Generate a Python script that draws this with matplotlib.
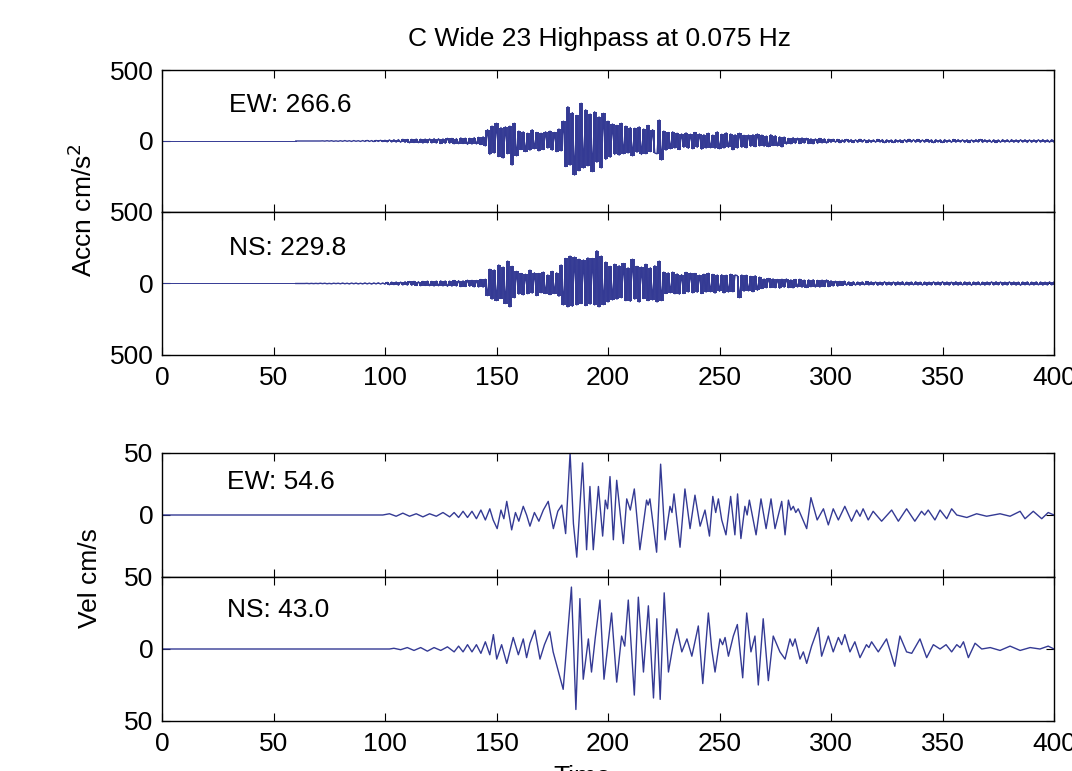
#!/usr/bin/env python

import matplotlib
matplotlib.use("Agg")
import matplotlib.pyplot as plt

plt.rcParams['font.family'] = ['Liberation Sans', 'DejaVu Sans']
plt.rcParams['font.size'] = 19

title = "C Wide 23 Highpass at 0.075 Hz"

# acceleration traces, one sample per second starting at acc_t0 (cm/s^2)
acc_t0 = 60
acc_ew = [
    0, 0, 0, 0, 0, 0, 0, 0, 0, 0,
    0, 0, 1, -1, 2, -1, 2, -2, 1, -2,
    2, -2, 3, -2, 2, -3, 3, -2, 2, -3,
    3, -3, 4, -3, 3, -4, 4, -3, 5, -4,
    5, -6, 8, -7, 9, -8, 10, -9, 12, -10,
    11, -13, 12, -11, 14, -12, 13, -15, 14, -13,
    15, -14, 17, -15, 16, -18, 15, -17, 19, -16,
    18, -20, 17, -19, 22, -18, 20, -24, 19, -22,
    24, -21, 26, -25, 30, -35, 80, -95, 105, -85,
    125, -110, 95, -120, 100, -90, 105, -170, 125, -105,
    70, -60, 65, -75, 55, -65, 80, -55, 60, -70,
    55, -60, 65, -50, 70, -65, 60, -75, 85, -70,
    140, -180, 242, -170, 200, -240, 180, -210, 266, -190,
    220, -175, 190, -216, 206, -150, 170, -190, 195, -130,
    140, -115, 120, -95, 110, -100, 125, -90, 105, -85,
    95, -105, 90, -80, 100, -95, 85, -90, 110, -75,
    80, -85, -90, 148, -134, 70, -65, 60, -55, 65,
    -50, 55, -60, 50, -45, 58, -52, 48, -55, 60,
    -45, 50, -58, 45, -50, 55, -48, 42, -52, 65,
    -55, 48, -50, 58, -45, 50, -62, 45, -50, 55,
    -45, 40, -48, 42, -38, 45, -40, 50, -35, 42,
    -38, 35, -40, 45, -32, 38, -35, 30, -42, 28,
    -22, 18, -20, 24, -17, 20, -18, 22, -15, 19,
    -18, 16, -20, 15, -17, 18, -14, 16, -15, 13,
    -10, 12, -9, 11, -12, 8, -10, 11, -9, 10,
    -11, 9, -10, 12, -8, 10, -11, 9, -10, 8,
    -9, 11, -8, 10, -12, 9, -10, 8, -11, 10,
    -8, 9, -11, 10, -9, 12, -8, 10, -9, 11,
    -10, 8, -9, 11, -10, 9, -12, 10, -8, 9,
    -11, 10, -9, 8, -10, 11, -9, 10, -8, 9,
    -10, 9, -11, 8, -9, 10, -8, 11, -10, 9,
    -9, 8, -10, 9, -11, 8, -9, 10, -8, 9,
    -8, 10, -9, 8, -10, 9, -8, 9, -10, 8,
    -9, 8, -10, 9, -8, 10, -9, 8, -9, 10,
    -8,
]
acc_ns = [
    0, 0, 0, 0, 0, 1, -1, 1, -1, 1,
    -1, 2, -1, 2, -2, 1, -2, 2, -1, 2,
    -2, 3, -2, 2, -3, 3, -2, 3, -3, 2,
    -3, 4, -3, 3, -4, 4, -3, 5, -4, 4,
    -5, 8, -9, 10, -8, 11, -12, 10, -11, 13,
    -12, 14, -13, 15, -14, 13, -16, 15, -14, 17,
    -16, 15, -18, 17, -16, 19, -17, 18, -20, 17,
    -19, 21, -18, 20, -22, 19, -21, 23, -20, 22,
    -24, 21, -25, 28, -26, 30, -85, 100, -110, 95,
    -120, 130, -105, 115, -140, 157, -164, 120, -100, 85,
    -75, 70, -80, 65, -72, 94, -68, 75, -85, 70,
    -65, 80, -70, 60, -78, 85, -70, 75, -90, 130,
    -150, 175, -164, 192, -160, 185, -150, 170, -140, 165,
    -155, 180, -145, 175, -150, 230, -164, 192, -148, 150,
    -130, 120, -115, 135, -110, 125, -100, 140, -120, 110,
    -125, 170, -110, 120, -130, 115, -105, 135, -120, 110,
    -115, 125, -130, 157, -120, 80, -70, 75, -65, 80,
    -72, 68, -75, 62, -70, 78, -60, 72, -66, 70,
    -62, 58, -70, 65, -60, 72, -58, 64, -68, 60,
    -55, 62, -66, 58, -60, 65, -58, 60, 55, -100,
    60, -55, 58, -52, 50, -58, 55, -48, 45, -35,
    32, -30, 35, -28, 33, -30, 28, -34, 30, -27,
    32, -29, 26, -31, 28, -25, 30, -27, 24, -28,
    26, -23, 27, -25, 22, -26, 24, -21, 25, -22,
    20, -18, 16, -19, 15, -14, 17, -13, 12, -14,
    13, -12, 11, -13, 12, -10, 14, -11, 12, -10,
    11, -13, 10, -12, 13, -11, 10, -12, 11, -13,
    12, -10, 13, -11, 10, -12, 11, -10, 13, -11,
    10, -12, 11, -13, 10, -11, 12, -10, 11, -12,
    13, -10, 11, -12, 10, -11, 13, -12, 10, -11,
    12, -11, 10, -13, 11, -10, 12, -11, 10, -12,
    11, -10, 12, -11, 13, -10, 11, -12, 10, -11,
    12, -10, 11, -12, 10, -13, 11, -10, 12, -11,
    10, -11, 12, -10, 11, -12, 10, -11, 12, -10,
    11,
]
acc_peaks = ["EW: 266.6", "NS: 229.8"]

# velocity traces, picked turning points (time s, cm/s)
vel_ew_t = [0, 84, 99, 102, 105, 108, 111, 114, 117, 120, 123, 126, 129,
            131, 133, 135, 137, 139, 141, 143, 145, 147, 148.5, 150.3, 152,
            153.3, 154.6, 156.8, 158.5, 160, 162, 163.5, 165, 167, 169, 171,
            173.2, 175.5, 177.5, 179.3, 181, 183, 184.5, 186, 188.6, 190.4,
            191.9, 193.4, 195.7, 197.6, 198.8, 199.8, 200.9, 202.4, 203.9,
            206.9, 208.4, 210, 211.8, 214.3, 217.3, 218, 218.8, 221.8, 223.6,
            225.6, 227.8, 228.7, 229.6, 232.3, 234.5, 236.8, 239.0, 241.3,
            243.5, 245.5, 247.0, 248.3, 249.5, 251.0, 252.9, 255.0, 256.9,
            258.1, 259.6, 261.4, 262.4, 263.4, 266.4, 268.6, 270.9, 273.1,
            274.9, 277.9, 279.4, 280.9, 282, 283.1, 284.2, 285.3, 289.1,
            291.0, 293.8, 296.6, 298.8, 301.0, 303.3, 306.2, 309.2, 311.5,
            313, 314.4, 316.7, 318.9, 322.7, 327.2, 330.2, 333.9, 337.6,
            340.6, 342, 343.6, 346.6, 348.9, 351.9, 354.1, 356.4, 360.9,
            365.3, 369.8, 375.8, 380.3, 384.8, 387.0, 390.7, 394.5, 397.4, 400]
vel_ew = [0, 0, 0, 1, -1, 1.5, -1, 1, -1.5, 1, -1, 2, -1.5,
          2, -2, 3, -2, 3, -3, 4, -4, 5, -4, -11, 4,
          -3, 11, -12, 2, -5, 7, 0, -9, 2, -5, 4,
          11, -11, 3, 8, -15, 50, -7, -34, 42, -28,
          23, -28, 23, -17, 12, 5, 31, -20, 28,
          -23, 13, 4, 21, -28, 12, 8, 13, -30, 41,
          -20, 7, 2, 17, -26, 21, -11, 16, -9,
          4, -17, 15, 2, 13, -4, -16, 15, -16,
          17, -19, 7, 0, 12, -16, 13, -11, 13,
          -11, 11, -16, 12, 4, 7, 2, 5, -11,
          14, -4, 5, -8, 5, -4, 7, -5, 4,
          -1, 5, -4, 3, -5, 4, -5, 5, -5,
          3, 0, 4, -4, 4, -3, 5, 0, -2,
          1, -1, 1, -1, 3, -3, 3, -3, 2, 0]

vel_ns_t = [0, 86, 102, 104, 107, 110, 113, 116, 119, 122, 125, 128, 131,
            133, 135, 137, 139, 141, 143, 145, 147, 148.6, 150.1, 152.3,
            154.6, 157.5, 159.8, 162.0, 163.5, 165.0, 167.2, 169.5, 171.5,
            173.9, 175.4, 179.9, 183.6, 185.6, 187.4, 188.9, 191.2, 192.6,
            194.3, 196.4, 198.2, 201.6, 203.9, 206.1, 207.5, 209.1, 211.8,
            213.6, 215.9, 218.1, 220.4, 221.9, 223.4, 225.2, 227.1, 229.1,
            230.9, 233.1, 235.4, 237.6, 240.5, 242.5, 245, 246.5, 248, 250.2,
            251.4, 252.5, 254.0, 256.2, 258.0, 260.4, 262.2, 264.1, 265.9,
            267.4, 269.6, 271.9, 274.1, 277.1, 279.4, 281.6, 282.8, 283.9,
            286.1, 287.6, 289.1, 291.3, 294.3, 295.8, 298.8, 301.0, 303.3,
            304.8, 306.2, 308.5, 310.7, 313.0, 315.9, 317, 318.2, 321.2,
            324.9, 328.6, 330.9, 333.9, 336.2, 339.9, 342.9, 345.9, 348.9,
            351.6, 354.1, 356.4, 357.9, 359.4, 361.6, 364.6, 367.6, 371.4,
            375.8, 380.3, 384.8, 389.3, 393.7, 397.4, 400]
vel_ns = [0, 0, 0, 0.5, -0.5, 1, -1, 1, -1.5, 1, -1, 1.5, -2,
          2, -2, 3, -2, 3, -3, 5, -4, 10, -7, 3,
          -10, 8, -4, 7, -6, 4, 13, -7, 3,
          12, -2, -28, 43, -42, 35, -21, 7, -16,
          8, 34, -21, 25, -23, 9, 2, 34, -32,
          36, -16, 30, -34, 21, -35, 39, -16, 2,
          14, -2, 7, -5, 16, -24, 25, 0, -16, 7,
          3, 8, -5, 9, 17, -20, 25, -2, 9,
          -25, 21, -22, 9, -2, -7, 7, 2, 7,
          -7, -2, -10, 2, 15, -5, 9, -2, 8,
          3, 10, -2, 5, -6, 3, 1, 5, -2,
          7, -12, 9, -2, -3, 7, -6, 3, 0,
          3, -2, 3, 1, 5, -6, 4, 0, 1,
          -1, 2, -1, 1, 0, 2, 0]
vel_peaks = ["EW: 54.6", "NS: 43.0"]

x_ticks = [0, 50, 100, 150, 200, 250, 300, 350, 400]
line_col = '#343a94'

W, H = 1072.0, 771.0


def box(left, top, right, bottom):
    # pixel box -> figure fraction
    return [left / W, 1 - bottom / H, (right - left) / W, (bottom - top) / H]


def style_axis(ax, show_x):
    ax.set_xlim(0, 400)
    ax.set_xticks(x_ticks)
    ax.tick_params(direction='in', length=6, width=0.8, top=True, right=True,
                   labelsize=19, pad=6)
    ax.tick_params(axis='x', pad=8, labelbottom=show_x)
    for sp in ax.spines.values():
        sp.set_linewidth(1.0)


def draw_dense(ax, t0, trace):
    # each second is a vertical stroke between successive extremes
    seg_t = [t0 + i + 0.5 for i in range(len(trace) - 1)]
    lo = [min(a, b) for a, b in zip(trace[:-1], trace[1:])]
    hi = [max(a, b) for a, b in zip(trace[:-1], trace[1:])]
    ax.plot([0, t0], [0, 0], color=line_col, linewidth=0.7)
    ax.vlines(seg_t, lo, hi, colors=line_col, linewidth=1.4)
    ax.plot([t0 + i for i in range(len(trace))], trace,
            color=line_col, linewidth=1.0)


fig = plt.figure(figsize=(W / 100, H / 100), dpi=100)

ax1 = fig.add_axes(box(162, 70, 1054, 212))
ax2 = fig.add_axes(box(162, 212, 1054, 355))
ax3 = fig.add_axes(box(162, 453, 1054, 577))
ax4 = fig.add_axes(box(162, 577, 1054, 721))

for ax, trace, label, show_x in [(ax1, acc_ew, acc_peaks[0], False),
                                 (ax2, acc_ns, acc_peaks[1], True)]:
    draw_dense(ax, acc_t0, trace)
    ax.set_ylim(-500, 500)
    style_axis(ax, show_x)
    ax.text(30, 250, label, ha='left', va='center', fontsize=19)

ax1.set_yticks([0, 500])
ax1.set_yticklabels(['0', '500'])
ax2.set_yticks([-500, 0, 500])
ax2.set_yticklabels(['500', '0', '500'])

for ax, tt, trace, label, show_x in [(ax3, vel_ew_t, vel_ew, vel_peaks[0], False),
                                     (ax4, vel_ns_t, vel_ns, vel_peaks[1], True)]:
    ax.plot(tt, trace, color=line_col, linewidth=1.0)
    ax.set_ylim(-50, 50)
    style_axis(ax, show_x)
    ax.text(29, 27, label, ha='left', va='center', fontsize=19)

ax3.set_yticks([0, 50])
ax3.set_yticklabels(['0', '50'])
ax4.set_yticks([-50, 0, 50])
ax4.set_yticklabels(['50', '0', '50'])

fig.text(600 / W, 1 - 39 / H, title, ha='center', va='center', fontsize=19)
fig.text(83 / W, 1 - 210 / H, 'Accn cm/s$^2$', rotation=90,
         ha='center', va='center', fontsize=19)
fig.text(90 / W, 1 - 578 / H, 'Vel cm/s', rotation=90,
         ha='center', va='center', fontsize=19)
fig.text(553 / W, 1 - 765 / H, 'Time', ha='left', va='top', fontsize=19)

fig.savefig("out.png", dpi=100)
